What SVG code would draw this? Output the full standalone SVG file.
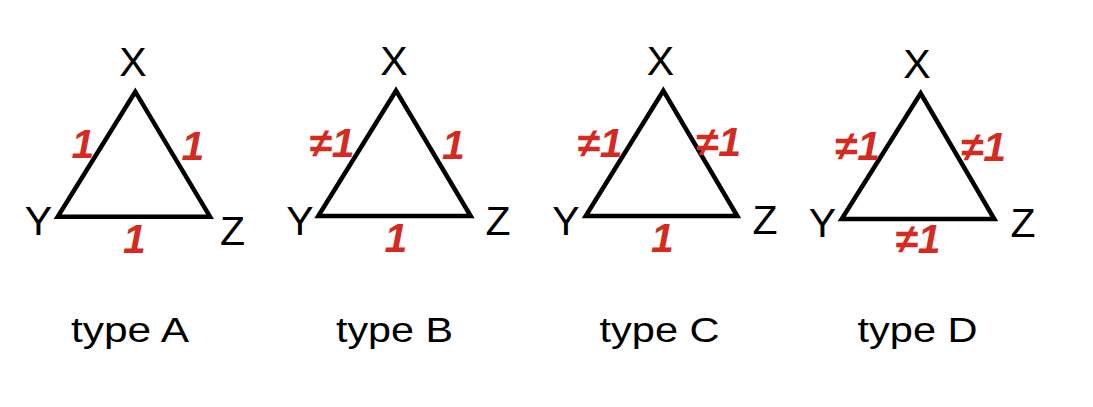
<svg xmlns="http://www.w3.org/2000/svg" width="1093" height="407" viewBox="0 0 1093 407">
<style>
.tri{fill:none;stroke:#000;stroke-width:4.5;stroke-linejoin:miter}
.v{font-family:"Liberation Sans",Arial,sans-serif;font-size:41px;fill:#000;text-anchor:middle}
.w{font-family:"Liberation Sans",Arial,sans-serif;font-size:41px;font-weight:bold;font-style:italic;fill:#d42a1f;text-anchor:middle}
.t{font-family:"Liberation Sans",Arial,sans-serif;font-size:35px;fill:#000}
</style>
<rect width="1093" height="407" fill="#fff"/>
<g id="connectors">
<polygon class="tri" points="135.3,91.7 57.7,216.7 210,216.7"/>
<polygon class="tri" points="396,90.7 318.3,216 470.7,216"/>
<polygon class="tri" points="663.3,90.7 585.7,216 737.3,216"/>
<polygon class="tri" points="920.7,93.3 841.7,219 994.3,219"/>
</g>
<g id="typeA">
<text class="v" x="133" y="76">X</text>
<text class="v" x="38.5" y="235">Y</text>
<text class="v" x="232.5" y="245">Z</text>
<text class="w" x="83" y="158">1</text>
<text class="w" x="193" y="160">1</text>
<text class="w" x="134.5" y="253">1</text>
<text class="t" x="71" y="341.7" textLength="118" lengthAdjust="spacingAndGlyphs">type A</text>
</g>
<g id="typeB">
<text class="v" x="394" y="75">X</text>
<text class="v" x="300" y="235">Y</text>
<text class="v" x="498" y="235">Z</text>
<text class="w" x="332" y="157">≠1</text>
<text class="w" x="453.5" y="159">1</text>
<text class="w" x="396" y="252">1</text>
<text class="t" x="336" y="341.7" textLength="117" lengthAdjust="spacingAndGlyphs">type B</text>
</g>
<g id="typeC">
<text class="v" x="660.5" y="75">X</text>
<text class="v" x="566" y="235">Y</text>
<text class="v" x="765" y="234">Z</text>
<text class="w" x="600" y="157">≠1</text>
<text class="w" x="718.5" y="156">≠1</text>
<text class="w" x="662.5" y="252">1</text>
<text class="t" x="599.5" y="341.7" textLength="120" lengthAdjust="spacingAndGlyphs">type C</text>
</g>
<g id="typeD">
<text class="v" x="917" y="78">X</text>
<text class="v" x="822.5" y="237">Y</text>
<text class="v" x="1023" y="237">Z</text>
<text class="w" x="857.5" y="160">≠1</text>
<text class="w" x="983.5" y="161">≠1</text>
<text class="w" x="918" y="253">≠1</text>
<text class="t" x="857.5" y="341.7" textLength="120" lengthAdjust="spacingAndGlyphs">type D</text>
</g>
</svg>
